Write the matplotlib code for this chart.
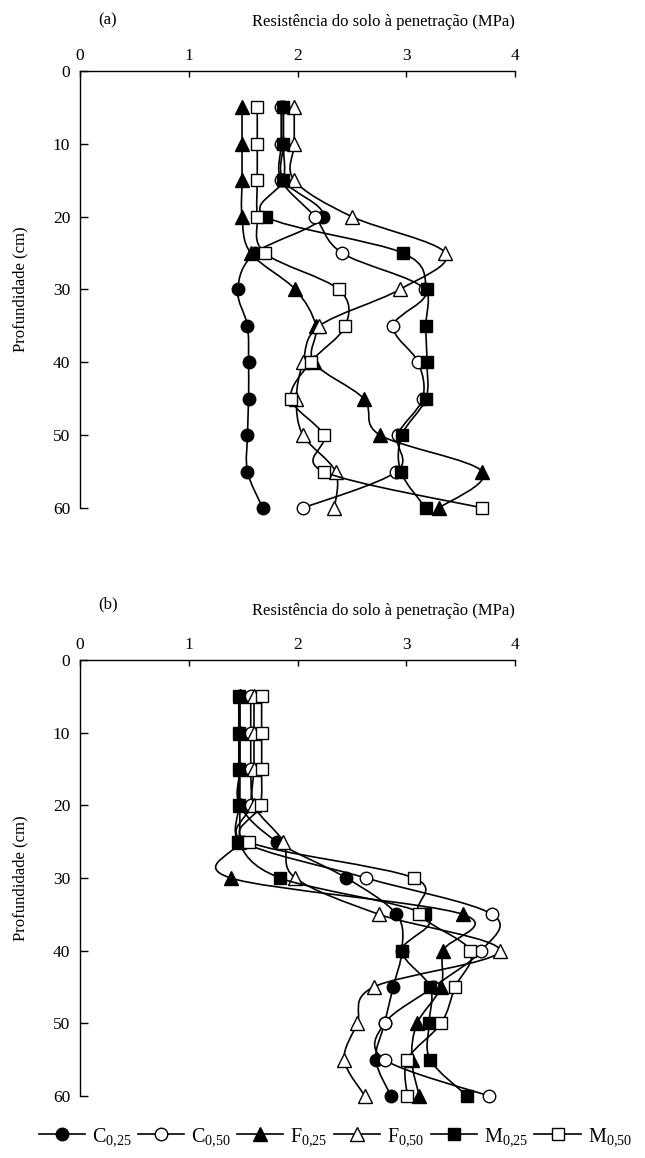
import numpy as np
import matplotlib
matplotlib.use("Agg")
import matplotlib.pyplot as plt
from matplotlib.path import Path
from matplotlib.patches import PathPatch
from matplotlib.lines import Line2D

plt.rcParams['font.family'] = ['Liberation Serif', 'DejaVu Serif']
plt.rcParams['mathtext.fontset'] = 'custom'
plt.rcParams['mathtext.rm'] = 'Liberation Serif'
plt.rcParams['mathtext.it'] = 'Liberation Serif'

# ------------------------------------------------------------------
# data: soil penetration resistance (MPa) by depth (cm)
# ------------------------------------------------------------------
depth = [5, 10, 15, 20, 25, 30, 35, 40, 45, 50, 55, 60]

# panel (a)
a_c025 = [1.87, 1.87, 1.87, 2.23, 1.61, 1.45, 1.54, 1.55, 1.55, 1.54, 1.54, 1.68]
a_c050 = [1.85, 1.85, 1.85, 2.16, 2.41, 3.17, 2.88, 3.11, 3.15, 2.92, 2.91, 2.05]
a_f025 = [1.49, 1.49, 1.49, 1.49, 1.57, 1.98, 2.17, 2.15, 2.61, 2.76, 3.70, 3.30]
a_f050 = [1.97, 1.97, 1.97, 2.50, 3.36, 2.94, 2.20, 2.05, 1.99, 2.05, 2.35, 2.34]
a_m025 = [1.87, 1.87, 1.87, 1.71, 2.97, 3.19, 3.18, 3.19, 3.18, 2.96, 2.95, 3.18]
a_m050 = [1.63, 1.63, 1.63, 1.63, 1.70, 2.38, 2.44, 2.12, 1.94, 2.24, 2.24, 3.70]

# panel (b)
b_c025 = [1.47, 1.47, 1.47, 1.47, 1.81, 2.45, 2.91, 2.96, 2.88, 2.80, 2.72, 2.86]
b_c050 = [1.57, 1.57, 1.57, 1.57, 1.50, 2.63, 3.79, 3.69, 3.25, 2.80, 2.80, 3.76]
b_f025 = [1.47, 1.47, 1.47, 1.47, 1.46, 1.385, 3.52, 3.34, 3.32, 3.10, 3.05, 3.12]
b_f050 = [1.60, 1.60, 1.60, 1.60, 1.87, 1.98, 2.75, 3.86, 2.70, 2.55, 2.43, 2.62]
b_m025 = [1.46, 1.46, 1.46, 1.46, 1.455, 1.84, 3.17, 2.96, 3.22, 3.21, 3.22, 3.56]
b_m050 = [1.67, 1.67, 1.67, 1.66, 1.55, 3.07, 3.12, 3.59, 3.45, 3.32, 3.01, 3.01]

labels = [r'C$_{0{,}25}$', r'C$_{0{,}50}$', r'F$_{0{,}25}$', r'F$_{0{,}50}$',
          r'M$_{0{,}25}$', r'M$_{0{,}50}$']
markers = ['o', 'o', '^', '^', 's', 's']
fills = ['black', 'white', 'black', 'white', 'black', 'white']
msizes = [9, 9, 9.5, 9.5, 8.5, 8.5]


def smooth_path(x, y):
    # Excel-like smoothed line (Catmull-Rom as cubic Bezier)
    pts = np.column_stack([x, y]).astype(float)
    n = len(pts)
    verts = [pts[0]]
    codes = [Path.MOVETO]
    for i in range(n - 1):
        p0 = pts[i - 1] if i > 0 else pts[i]
        p1 = pts[i]
        p2 = pts[i + 1]
        p3 = pts[i + 2] if i + 2 < n else pts[i + 1]
        verts += [p1 + (p2 - p0) / 6.0, p2 - (p3 - p1) / 6.0, p2]
        codes += [Path.CURVE4] * 3
    return Path(verts, codes)


def draw_panel(ax, series, tag, tag_y):
    for k, vals in enumerate(series):
        patch = PathPatch(smooth_path(vals, depth), facecolor='none',
                          edgecolor='black', lw=1.2, zorder=2 + k)
        ax.add_patch(patch)
        ax.plot(vals, depth, linestyle='none', marker=markers[k],
                markersize=msizes[k], markerfacecolor=fills[k],
                markeredgecolor='black', markeredgewidth=1.0,
                zorder=2.5 + k, clip_on=False)
    ax.set_xlim(0, 4)
    ax.set_ylim(60, 0)
    ax.xaxis.tick_top()
    ax.xaxis.set_label_position('top')
    ax.set_xticks([0, 1, 2, 3, 4])
    ax.set_yticks([0, 10, 20, 30, 40, 50, 60])
    ax.spines['right'].set_visible(False)
    ax.spines['bottom'].set_visible(False)
    ax.spines['top'].set_linewidth(1.0)
    ax.spines['left'].set_linewidth(1.0)
    ax.tick_params(axis='x', direction='in', length=4.5, width=1.0,
                   labelsize=12.5, pad=5)
    ax.tick_params(axis='y', direction='in', length=6, width=1.0,
                   labelsize=12.5, pad=7)
    ax.set_xlabel('Resistência do solo à penetração (MPa)', fontsize=12,
                  loc='right', labelpad=16)
    ax.set_ylabel('Profundidade (cm)', fontsize=12, labelpad=18)
    fig.text(108 / 645, 1 - tag_y / 1158, tag, fontsize=12,
             ha='center', va='center')


fig = plt.figure(figsize=(6.45, 11.58), dpi=100)
ax_a = fig.add_axes([80 / 645, 1 - 508 / 1158, 435 / 645, 437 / 1158])
ax_b = fig.add_axes([80 / 645, 1 - 1096 / 1158, 435 / 645, 436 / 1158])

draw_panel(ax_a, [a_c025, a_c050, a_f025, a_f050, a_m025, a_m050], '(a)', 20)
draw_panel(ax_b, [b_c025, b_c050, b_f025, b_f050, b_m025, b_m050], '(b)', 604)

handles = [Line2D([], [], color='black', lw=1.2, marker=markers[k],
                  markersize=msizes[k], markerfacecolor=fills[k],
                  markeredgecolor='black') for k in range(6)]
fig.legend(handles, labels, loc='center', bbox_to_anchor=(0.52, 1 - 1137 / 1158),
           ncol=6, frameon=False, fontsize=14.5, handlelength=2.3,
           handletextpad=0.35, columnspacing=0.3, borderaxespad=0)

fig.savefig('out.png', dpi=100)
